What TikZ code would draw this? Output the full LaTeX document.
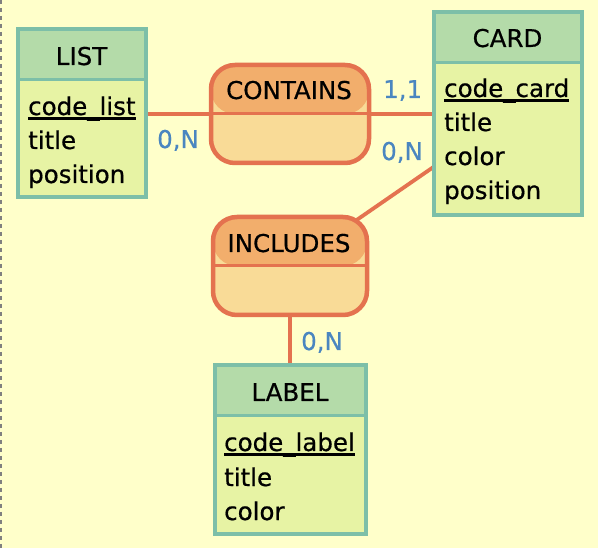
\documentclass[tikz,border=0pt]{standalone}
\usepackage{fontspec}
\setmainfont[FakeBold=0.6]{DejaVu Sans}
\usetikzlibrary{calc}
\pgfdeclarelayer{background}
\pgfsetlayers{background,main}
\definecolor{bgc}{HTML}{FFFFCA}
\definecolor{entline}{HTML}{7DBFA8}
\definecolor{enthead}{HTML}{B4DBA9}
\definecolor{entbody}{HTML}{E7F3A4}
\definecolor{relline}{HTML}{E4724F}
\definecolor{relhead}{HTML}{F2AE6C}
\definecolor{relbody}{HTML}{F9DB97}
\definecolor{cardc}{HTML}{4A86C0}
\tikzset{
  entity/.style={rectangle, draw=entline, line width=4pt, fill=entbody, inner sep=0pt,
    path picture={\fill[enthead] (path picture bounding box.north west) rectangle ([yshift=-50.5pt]path picture bounding box.north east);
      \draw[entline, line width=3pt] ([yshift=-50.5pt]path picture bounding box.north west) -- ([yshift=-50.5pt]path picture bounding box.north east);}},
  relation/.style={rectangle, rounded corners=24pt, draw=relline, line width=4.5pt, fill=relbody, inner sep=0pt,
    path picture={\fill[relhead] (path picture bounding box.north west) rectangle (path picture bounding box.east);
      \draw[relline, line width=3pt] (path picture bounding box.west) -- (path picture bounding box.east);}},
  txt/.style={inner sep=0pt, font=\fontsize{24.5pt}{28pt}\selectfont, text=black},
  card/.style={inner sep=0pt, font=\fontsize{24.5pt}{28pt}\selectfont, text=cardc, anchor=base west},
  conn/.style={draw=relline, line width=3.8pt},
  uline/.style={draw=black, line width=2.2pt}
}
\begin{document}
\begin{tikzpicture}[x=1pt, y=-1pt]
\useasboundingbox (0,0) rectangle (598,548);
% entities
\node[entity, minimum width=128pt, minimum height=168pt] (list) at (81.5,113.5) {};
\node[entity, minimum width=148pt, minimum height=203pt] (cardE) at (507.5,114) {};
\node[entity, minimum width=151pt, minimum height=168pt] (label) at (290,449.5) {};
% relations
\node[relation, minimum width=158pt, minimum height=98pt] (contains) at (290,114) {};
\node[relation, minimum width=154pt, minimum height=98pt] (includes) at (290,266) {};
% titles
\node[txt, anchor=base] (tlist) at (81.5,65) {LIST};
\node[txt, anchor=base] (tcard) at (507.5,47) {CARD};
\node[txt, anchor=base] (tlabel) at (290,401) {LABEL};
\node[txt, anchor=base] (tcontains) at (289,99) {CONTAINS};
\node[txt, anchor=base] (tincludes) at (289,252) {INCLUDES};
% attributes LIST
\node[txt, anchor=base west] (l1) at (28,115) {code\_list};
\node[txt, anchor=base west] (l2) at (28,149) {title};
\node[txt, anchor=base west] (l3) at (28,183) {position};
\draw[uline] ([yshift=-3.5pt]l1.base west) -- ([yshift=-3.5pt]l1.base east);
% attributes CARD
\node[txt, anchor=base west] (c1) at (444,97) {code\_card};
\node[txt, anchor=base west] (c2) at (444,131) {title};
\node[txt, anchor=base west] (c3) at (444,165) {color};
\node[txt, anchor=base west] (c4) at (444,199) {position};
\draw[uline] ([yshift=-3.5pt]c1.base west) -- ([yshift=-3.5pt]c1.base east);
% attributes LABEL
\node[txt, anchor=base west] (b1) at (224,451) {code\_label};
\node[txt, anchor=base west] (b2) at (224,486) {title};
\node[txt, anchor=base west] (b3) at (224,520) {color};
\draw[uline] ([yshift=-3.5pt]b1.base west) -- ([yshift=-3.5pt]b1.base east);
% cardinalities
\node[card] (k1) at (157,148) {0,N};
\node[card] (k2) at (383,98) {1,1};
\node[card] (k3) at (381,160) {0,N};
\node[card] (k4) at (301,350) {0,N};
% connectors and background
\coordinate (cc) at (433.5,167);
\coordinate (dtop) at (1,0);
\coordinate (dbot) at (1,548);
\begin{pgfonlayer}{background}
\fill[bgc] (0,0) rectangle (598,548);
\draw[draw=gray, line width=1.2pt, dash pattern=on 4pt off 4pt] (dtop) -- (dbot);
\draw[conn] (list.center |- contains.center) -- (contains.center) -- (cardE.center |- contains.center);
\draw[conn] (includes.center) -- (cc);
\draw[conn] (includes.center) -- (label.center);
\end{pgfonlayer}
\end{tikzpicture}
\end{document}
